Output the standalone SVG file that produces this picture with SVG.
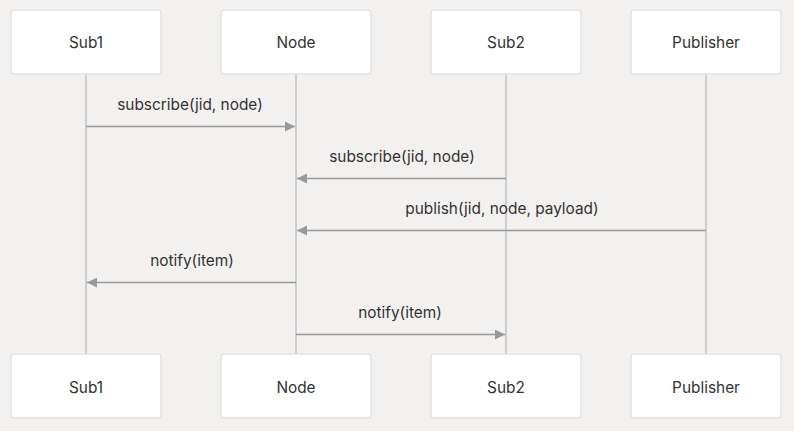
<svg xmlns="http://www.w3.org/2000/svg" width="794" height="431" viewBox="0 0 794 431">
<style>
.bg{fill:#f2f1f0}
.box{fill:#ffffff;stroke:#d9d9d9;stroke-width:1}
.life{stroke:#cccccc;stroke-width:2;fill:none}
.msg{stroke:#999999;stroke-width:1.5;fill:none}
.t{font-family:Inter,"Liberation Sans",sans-serif;font-size:15.4px;fill:#333333;text-anchor:middle;dominant-baseline:central}
</style>
<defs>
<marker id="ah" viewBox="0 0 10 10" refX="10" refY="5" markerWidth="10" markerHeight="10" markerUnits="userSpaceOnUse" orient="auto">
<path d="M0,0 L10,5 L0,10 z" fill="#999999"/>
</marker>
</defs>
<rect class="bg" x="0" y="0" width="794" height="431"/>
<g id="lifelines">
<line class="life" x1="86" y1="74" x2="86" y2="354"/>
<line class="life" x1="296" y1="74" x2="296" y2="354"/>
<line class="life" x1="506" y1="74" x2="506" y2="354"/>
<line class="life" x1="706" y1="74" x2="706" y2="354"/>
</g>
<g id="connectors">
<line class="msg" x1="86" y1="126.5" x2="295" y2="126.5" marker-end="url(#ah)"/>
<text class="t" x="190" y="104">subscribe(jid, node)</text>
<line class="msg" x1="506" y1="178.5" x2="297" y2="178.5" marker-end="url(#ah)"/>
<text class="t" x="402" y="156">subscribe(jid, node)</text>
<line class="msg" x1="706" y1="230.5" x2="297" y2="230.5" marker-end="url(#ah)"/>
<text class="t" x="502" y="208">publish(jid, node, payload)</text>
<line class="msg" x1="296" y1="282.5" x2="87" y2="282.5" marker-end="url(#ah)"/>
<text class="t" x="192" y="260">notify(item)</text>
<line class="msg" x1="296" y1="334.5" x2="505" y2="334.5" marker-end="url(#ah)"/>
<text class="t" x="400" y="312">notify(item)</text>
</g>
<g id="sub1-top"><rect class="box" x="11" y="10" width="150" height="64" rx="3"/><text class="t" x="86" y="42">Sub1</text></g>
<g id="node-top"><rect class="box" x="221" y="10" width="150" height="64" rx="3"/><text class="t" x="296" y="42">Node</text></g>
<g id="sub2-top"><rect class="box" x="431" y="10" width="150" height="64" rx="3"/><text class="t" x="506" y="42">Sub2</text></g>
<g id="publisher-top"><rect class="box" x="631" y="10" width="150" height="64" rx="3"/><text class="t" x="706" y="42">Publisher</text></g>
<g id="sub1-bottom"><rect class="box" x="11" y="354" width="150" height="64" rx="3"/><text class="t" x="86" y="387">Sub1</text></g>
<g id="node-bottom"><rect class="box" x="221" y="354" width="150" height="64" rx="3"/><text class="t" x="296" y="387">Node</text></g>
<g id="sub2-bottom"><rect class="box" x="431" y="354" width="150" height="64" rx="3"/><text class="t" x="506" y="387">Sub2</text></g>
<g id="publisher-bottom"><rect class="box" x="631" y="354" width="150" height="64" rx="3"/><text class="t" x="706" y="387">Publisher</text></g>
</svg>
